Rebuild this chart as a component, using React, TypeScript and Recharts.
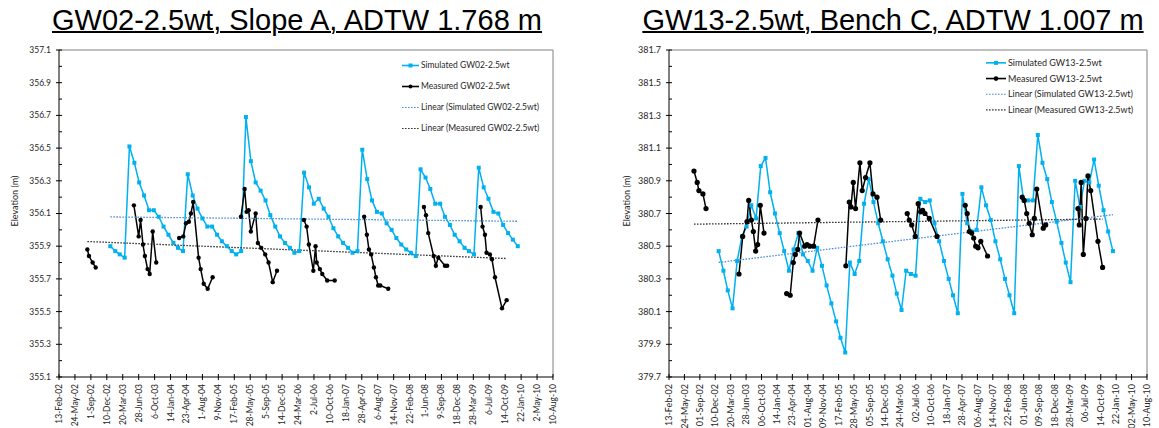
import React from "react";
import { LineChart, Line, XAxis, YAxis, Legend, ReferenceLine } from "recharts";

// x-axis tick labels, every 100 days
const ticks02 = [
  "13-Feb-02", "24-May-02", "1-Sep-02", "10-Dec-02", "20-Mar-03", "28-Jun-03", "6-Oct-03", "14-Jan-04",
  "23-Apr-04", "1-Aug-04", "9-Nov-04", "17-Feb-05", "28-May-05", "5-Sep-05", "14-Dec-05", "24-Mar-06",
  "2-Jul-06", "10-Oct-06", "18-Jan-07", "28-Apr-07", "6-Aug-07", "14-Nov-07", "22-Feb-08", "1-Jun-08",
  "9-Sep-08", "18-Dec-08", "28-Mar-09", "6-Jul-09", "14-Oct-09", "22-Jan-10", "2-May-10", "10-Aug-10"
];
const ticks13 = [
  "13-Feb-02", "24-May-02", "01-Sep-02", "10-Dec-02", "20-Mar-03", "28-Jun-03", "06-Oct-03", "14-Jan-04",
  "23-Apr-04", "01-Aug-04", "09-Nov-04", "17-Feb-05", "28-May-05", "05-Sep-05", "14-Dec-05", "24-Mar-06",
  "02-Jul-06", "10-Oct-06", "18-Jan-07", "28-Apr-07", "06-Aug-07", "14-Nov-07", "22-Feb-08", "01-Jun-08",
  "09-Sep-08", "18-Dec-08", "28-Mar-09", "06-Jul-09", "14-Oct-09", "22-Jan-10", "02-May-10", "10-Aug-10"
];

const yTicks02 = [
  355.1, 355.2, 355.3, 355.4, 355.5, 355.6, 355.7, 355.8, 355.9, 356.0, 356.1,
  356.2, 356.3, 356.4, 356.5, 356.6, 356.7, 356.8, 356.9, 357.0, 357.1
];
const yTicks13 = [
  379.7, 379.8, 379.9, 380.0, 380.1, 380.2, 380.3, 380.4, 380.5, 380.6, 380.7,
  380.8, 380.9, 381.0, 381.1, 381.2, 381.3, 381.4, 381.5, 381.6, 381.7
];

// model output, first of each month
const simMonths = [
  "2003-01", "2003-02", "2003-03", "2003-04", "2003-05", "2003-06", "2003-07", "2003-08", "2003-09", "2003-10", "2003-11", "2003-12",
  "2004-01", "2004-02", "2004-03", "2004-04", "2004-05", "2004-06", "2004-07", "2004-08", "2004-09", "2004-10", "2004-11", "2004-12",
  "2005-01", "2005-02", "2005-03", "2005-04", "2005-05", "2005-06", "2005-07", "2005-08", "2005-09", "2005-10", "2005-11", "2005-12",
  "2006-01", "2006-02", "2006-03", "2006-04", "2006-05", "2006-06", "2006-07", "2006-08", "2006-09", "2006-10", "2006-11", "2006-12",
  "2007-01", "2007-02", "2007-03", "2007-04", "2007-05", "2007-06", "2007-07", "2007-08", "2007-09", "2007-10", "2007-11", "2007-12",
  "2008-01", "2008-02", "2008-03", "2008-04", "2008-05", "2008-06", "2008-07", "2008-08", "2008-09", "2008-10", "2008-11", "2008-12",
  "2009-01", "2009-02", "2009-03", "2009-04", "2009-05", "2009-06", "2009-07", "2009-08", "2009-09", "2009-10", "2009-11", "2009-12",
  "2010-01"
];

const simGW02 = [
  355.90, 355.87, 355.85, 355.83, 356.51, 356.41, 356.29, 356.21, 356.12, 356.12, 356.08, 356.02,
  355.97, 355.92, 355.89, 355.87, 356.34, 356.21, 356.13, 356.07, 356.02, 356.02, 355.97, 355.93,
  355.90, 355.87, 355.85, 355.87, 356.69, 356.42, 356.29, 356.24, 356.18, 356.09, 356.02, 355.96,
  355.92, 355.89, 355.86, 355.87, 356.35, 356.26, 356.16, 356.19, 356.13, 356.08, 356.01, 355.96,
  355.92, 355.89, 355.86, 355.87, 356.49, 356.31, 356.18, 356.11, 356.10, 356.04, 356.00, 355.95,
  355.91, 355.88, 355.86, 355.84, 356.37, 356.32, 356.25, 356.16, 356.16, 356.08, 356.03, 355.97,
  355.93, 355.89, 355.87, 355.85, 356.38, 356.26, 356.19, 356.11, 356.10, 356.03, 355.98, 355.94,
  355.90
];

const simGW13 = [
  380.47, 380.35, 380.23, 380.12, 380.41, 380.56, 380.62, 380.75, 380.67, 380.99, 381.04, 380.83,
  380.70, 380.58, 380.47, 380.35, 380.48, 380.58, 380.45, 380.41, 380.35, 380.49, 380.38, 380.26,
  380.15, 380.04, 379.94, 379.85, 380.40, 380.33, 380.41, 380.76, 380.91, 380.77, 380.64, 380.53,
  380.42, 380.32, 380.21, 380.11, 380.35, 380.33, 380.32, 380.79, 380.77, 380.78, 380.64, 380.53,
  380.41, 380.30, 380.20, 380.09, 380.82, 380.64, 380.59, 380.60, 380.86, 380.75, 380.66, 380.53,
  380.42, 380.30, 380.20, 380.09, 380.99, 380.78, 380.78, 380.78, 381.18, 381.01, 380.91, 380.77,
  380.65, 380.52, 380.40, 380.28, 380.90, 380.74, 380.90, 380.89, 381.03, 380.87, 380.72, 380.59,
  380.47
];

// field readings, one list per monitoring season
type Obs = [string, number];

const measGW02: Obs[][] = [
  [["2002-08-10", 355.88], ["2002-08-20", 355.84], ["2002-09-12", 355.80], ["2002-10-01", 355.77]],
  [["2003-05-29", 356.15], ["2003-06-28", 355.96], ["2003-07-10", 356.06], ["2003-07-25", 355.91], ["2003-08-06", 355.84],
   ["2003-08-23", 355.76], ["2003-09-05", 355.73], ["2003-09-24", 355.99], ["2003-10-16", 355.80]],
  [["2004-03-08", 355.95], ["2004-04-03", 355.96], ["2004-04-20", 356.04], ["2004-05-08", 356.05], ["2004-05-21", 356.10],
   ["2004-06-04", 356.17], ["2004-07-08", 355.83], ["2004-07-21", 355.76], ["2004-08-09", 355.67], ["2004-09-03", 355.64],
   ["2004-10-04", 355.71]],
  [["2005-03-31", 356.08], ["2005-04-23", 356.25], ["2005-05-05", 356.11], ["2005-05-18", 356.12], ["2005-06-01", 355.99],
   ["2005-07-01", 356.10], ["2005-07-15", 355.92], ["2005-08-05", 355.89], ["2005-08-30", 355.85], ["2005-09-20", 355.80],
   ["2005-10-16", 355.68], ["2005-11-12", 355.75]],
  [["2006-04-30", 356.06], ["2006-05-17", 356.02], ["2006-05-31", 355.91], ["2006-06-28", 355.75], ["2006-07-12", 355.90],
   ["2006-07-19", 355.80], ["2006-08-08", 355.76], ["2006-08-23", 355.73], ["2006-09-23", 355.69], ["2006-11-09", 355.69]],
  [["2007-05-13", 356.08], ["2007-05-30", 355.97], ["2007-06-12", 355.88], ["2007-06-26", 355.85], ["2007-07-13", 355.77],
   ["2007-07-26", 355.71], ["2007-08-09", 355.66], ["2007-08-22", 355.66], ["2007-10-11", 355.64]],
  [["2008-05-22", 356.14], ["2008-06-04", 356.09], ["2008-06-18", 355.98], ["2008-07-22", 355.84], ["2008-08-05", 355.78],
   ["2008-08-20", 355.83], ["2008-10-01", 355.78], ["2008-10-15", 355.78]],
  [["2009-05-13", 356.14], ["2009-05-25", 356.02], ["2009-06-09", 355.97], ["2009-06-19", 355.86], ["2009-07-10", 355.85],
   ["2009-07-23", 355.82], ["2009-08-11", 355.71], ["2009-09-24", 355.52], ["2009-10-23", 355.57]]
];

const measGW13: Obs[][] = [
  [["2002-07-25", 380.96], ["2002-08-15", 380.89], ["2002-08-26", 380.84], ["2002-09-21", 380.82], ["2002-10-11", 380.73]],
  [["2003-05-13", 380.33], ["2003-06-06", 380.56], ["2003-07-04", 380.65], ["2003-07-15", 380.78], ["2003-08-01", 380.66],
   ["2003-08-14", 380.59], ["2003-08-29", 380.47], ["2003-09-11", 380.51], ["2003-09-28", 380.75], ["2003-10-22", 380.58]],
  [["2004-03-17", 380.21], ["2004-04-09", 380.20], ["2004-04-29", 380.40], ["2004-05-12", 380.45], ["2004-05-28", 380.48],
   ["2004-06-09", 380.58], ["2004-07-12", 380.50], ["2004-07-27", 380.51], ["2004-08-14", 380.50], ["2004-09-08", 380.50],
   ["2004-10-06", 380.66]],
  [["2005-04-05", 380.38], ["2005-04-27", 380.77], ["2005-05-08", 380.74], ["2005-05-23", 380.89], ["2005-06-07", 380.73],
   ["2005-07-05", 381.01], ["2005-07-20", 380.84], ["2005-08-11", 380.92], ["2005-09-08", 381.01], ["2005-09-28", 380.82],
   ["2005-10-24", 380.80], ["2005-11-17", 380.66]],
  [["2006-05-08", 380.70], ["2006-05-21", 380.66], ["2006-06-06", 380.63], ["2006-06-29", 380.56], ["2006-07-18", 380.76],
   ["2006-08-03", 380.71], ["2006-08-16", 380.72], ["2006-08-31", 380.70], ["2006-09-28", 380.67], ["2006-11-17", 380.56]],
  [["2007-05-19", 380.75], ["2007-06-01", 380.70], ["2007-06-15", 380.59], ["2007-06-30", 380.58], ["2007-07-13", 380.55],
   ["2007-07-26", 380.50], ["2007-08-10", 380.49], ["2007-08-28", 380.53], ["2007-10-11", 380.44]],
  [["2008-05-23", 380.80], ["2008-06-05", 380.78], ["2008-06-21", 380.70], ["2008-07-07", 380.64], ["2008-07-27", 380.57],
   ["2008-08-09", 380.67], ["2008-08-25", 380.85], ["2008-10-06", 380.61], ["2008-10-22", 380.63]],
  [["2009-05-19", 380.73], ["2009-05-28", 380.63], ["2009-06-09", 380.89], ["2009-06-23", 380.45], ["2009-07-10", 380.67],
   ["2009-07-23", 380.93], ["2009-08-10", 380.84], ["2009-09-26", 380.53], ["2009-10-26", 380.37]]
];

const SIM_BLUE = "#00B0F0";
const FIT_BLUE = "#4A8FD6";
const TEXT = "#262626";
const FONT = "Lato, 'Noto Sans', sans-serif";

const MONTHS: Record<string, number> = {
  Jan: 0, Feb: 1, Mar: 2, Apr: 3, May: 4, Jun: 5, Jul: 6, Aug: 7, Sep: 8, Oct: 9, Nov: 10, Dec: 11
};

// days since epoch
const isoDay = (s: string) => {
  const [y, m, d] = s.split("-").map(Number);
  return Date.UTC(y, m - 1, d || 1) / 864e5;
};
const tickDay = (s: string) => {
  const [d, mon, yy] = s.split("-");
  return Date.UTC(2000 + Number(yy), MONTHS[mon], Number(d)) / 864e5;
};

type Row = { t: number; [k: string]: number | null };

const simRows = (vals: number[]): Row[] => simMonths.map((m, i) => ({ t: isoDay(m), sim: vals[i] }));

// seasons joined with a null so the line breaks between them
const measRows = (seasons: Obs[][]): Row[] =>
  seasons.flatMap((s, k) => {
    const rows: Row[] = s.map(([d, v]) => ({ t: isoDay(d), meas: v }));
    if (k < seasons.length - 1) rows.push({ t: rows[rows.length - 1].t + 1, meas: null });
    return rows;
  });

// least-squares line over the span of the series
const linearFit = (rows: Row[], src: string, key: string): Row[] => {
  const pts = rows.filter((r) => r[src] != null).map((r) => [r.t, r[src] as number]);
  const n = pts.length;
  const mx = pts.reduce((a, p) => a + p[0], 0) / n;
  const my = pts.reduce((a, p) => a + p[1], 0) / n;
  let sxy = 0;
  let sxx = 0;
  pts.forEach(([x, y]) => {
    sxy += (x - mx) * (y - my);
    sxx += (x - mx) * (x - mx);
  });
  const b = sxy / sxx;
  const t0 = Math.min(...pts.map((p) => p[0]));
  const t1 = Math.max(...pts.map((p) => p[0]));
  return [
    { t: t0, [key]: my + b * (t0 - mx) },
    { t: t1, [key]: my + b * (t1 - mx) }
  ];
};

// legend rows in series order, with the sample drawn for each
const legendOrder = ["sim", "meas", "simFit", "measFit"];
const legendMarks: Record<string, string> = { sim: "square", meas: "circle", simFit: "dots", measFit: "dots" };

type PanelProps = {
  left: number;
  width: number;
  title: string;
  titleCenter: number;
  well: string;
  sim: number[];
  meas: Obs[][];
  xLabels: string[];
  yTicks: number[];
  yAxisWidth: number;
  marginRight: number;
  font: number;
  legendLeft: number;
  legendRow: number;
  legendSample: number;
  dotR: number;
  yTitleX: number;
};

function Panel(p: PanelProps) {
  const simData = simRows(p.sim);
  const measData = measRows(p.meas);
  const simFit = linearFit(simData, "sim", "simFit");
  const measFit = linearFit(measData, "meas", "measFit");

  const xTicks = p.xLabels.map(tickDay);
  const xLabelOf = new Map(xTicks.map((t, i) => [t, p.xLabels[i]]));
  const yLo = p.yTicks[0];
  const yHi = p.yTicks[p.yTicks.length - 1];

  const XTick = (props: any) => {
    const { x, y, payload } = props;
    return (
      <g>
        <line x1={x} x2={x} y1={y - 3} y2={y + 3} stroke="#000" strokeWidth={1} />
        <text
          x={x}
          y={y + 7}
          dy="0.35em"
          transform={`rotate(-90 ${x} ${y + 7})`}
          textAnchor="end"
          fontSize={p.font}
          fontFamily={FONT}
          fill={TEXT}
        >
          {xLabelOf.get(payload.value) ?? ""}
        </text>
      </g>
    );
  };

  const YTick = (props: any) => {
    const { x, y, payload } = props;
    const major = p.yTicks.indexOf(payload.value) % 2 === 0;
    return (
      <g>
        <line x1={major ? x - 3 : x} x2={x + 3} y1={y} y2={y} stroke="#000" strokeWidth={1} />
        {major && (
          <text x={x - 8} y={y} dy="0.35em" textAnchor="end" fontSize={p.font} fontFamily={FONT} fill={TEXT}>
            {Number(payload.value).toFixed(1)}
          </text>
        )}
      </g>
    );
  };

  const square = (d: any) =>
    d.cy == null ? (
      <g key={d.index} />
    ) : (
      <rect key={d.index} x={d.cx - 2} y={d.cy - 2} width={4} height={4} fill={SIM_BLUE} />
    );
  const circle = (d: any) =>
    d.cy == null || d.value == null ? (
      <g key={d.index} />
    ) : (
      <circle key={d.index} cx={d.cx} cy={d.cy} r={p.dotR} fill="#000" />
    );

  const renderLegend = (props: any) => {
    const items: any[] = [...(props.payload ?? [])].sort(
      (a, b) => legendOrder.indexOf(String(a.dataKey)) - legendOrder.indexOf(String(b.dataKey))
    );
    const row = p.legendRow;
    const s = p.legendSample;
    return (
      <svg width={180} height={row * items.length} style={{ display: "block", overflow: "visible" }}>
        {items.map((it, i) => {
          const cy = row * i + row / 2;
          const mark = legendMarks[String(it.dataKey)];
          const dotted = mark === "dots";
          return (
            <g key={i}>
              <line
                x1={4}
                x2={4 + s}
                y1={cy}
                y2={cy}
                stroke={it.color}
                strokeWidth={dotted ? 1.2 : 1.6}
                strokeDasharray={dotted ? "1.6 1.4" : undefined}
              />
              {mark === "square" && <rect x={4 + s / 2 - 2} y={cy - 2} width={4} height={4} fill={SIM_BLUE} />}
              {mark === "circle" && <circle cx={4 + s / 2} cy={cy} r={p.dotR * 0.9} fill="#000" />}
              <text x={6 + s} y={cy} dy="0.35em" fontSize={p.font} fontFamily={FONT} fill={TEXT}>
                {it.value}
              </text>
            </g>
          );
        })}
      </svg>
    );
  };

  return (
    <div style={{ position: "absolute", left: p.left, top: 0, width: p.width, height: 428 }}>
      <div
        style={{
          position: "absolute",
          left: p.titleCenter - p.left - 300,
          top: 6,
          width: 600,
          textAlign: "center",
          fontFamily: "'Liberation Sans', Arial, sans-serif",
          fontSize: 29,
          lineHeight: "29px",
          textDecoration: "underline",
          textDecorationThickness: 2,
          color: "#000",
          whiteSpace: "nowrap"
        }}
      >
        {p.title}
      </div>
      <div
        style={{
          position: "absolute",
          left: p.yTitleX - 50,
          top: 201 - 6,
          width: 100,
          height: 12,
          lineHeight: "12px",
          textAlign: "center",
          transform: "rotate(-90deg)",
          fontFamily: FONT,
          fontSize: 9,
          color: TEXT
        }}
      >
        Elevation (m)
      </div>
      <LineChart width={p.width} height={428} margin={{ top: 50, right: p.marginRight, bottom: 0, left: 0 }}>
        <XAxis
          type="number"
          dataKey="t"
          scale="linear"
          domain={[xTicks[0], xTicks[xTicks.length - 1]]}
          ticks={xTicks}
          interval={0}
          allowDataOverflow
          height={51}
          tickSize={0}
          tickMargin={0}
          tickLine={false}
          axisLine={{ stroke: "#000", strokeWidth: 1 }}
          tick={<XTick />}
        />
        <YAxis
          type="number"
          domain={[yLo, yHi]}
          ticks={p.yTicks}
          interval={0}
          allowDataOverflow
          width={p.yAxisWidth}
          tickSize={0}
          tickMargin={0}
          tickLine={false}
          axisLine={{ stroke: "#000", strokeWidth: 1 }}
          tick={<YTick />}
        />
        <ReferenceLine y={yHi} stroke="#808080" strokeWidth={1} />
        <ReferenceLine x={xTicks[xTicks.length - 1]} stroke="#808080" strokeWidth={1} />
        <Line
          data={simData}
          dataKey="sim"
          name={`Simulated ${p.well}`}
          stroke={SIM_BLUE}
          strokeWidth={1.5}
          dot={square}
          activeDot={false}
          isAnimationActive={false}
        />
        <Line
          data={measData}
          dataKey="meas"
          name={`Measured ${p.well}`}
          stroke="#000"
          strokeWidth={1.5}
          dot={circle}
          activeDot={false}
          isAnimationActive={false}
        />
        <Line
          data={simFit}
          dataKey="simFit"
          name={`Linear (Simulated ${p.well})`}
          stroke={FIT_BLUE}
          strokeWidth={1.3}
          strokeDasharray="1.6 1.4"
          dot={false}
          activeDot={false}
          isAnimationActive={false}
        />
        <Line
          data={measFit}
          dataKey="measFit"
          name={`Linear (Measured ${p.well})`}
          stroke="#333"
          strokeWidth={1.3}
          strokeDasharray="1.6 1.4"
          dot={false}
          activeDot={false}
          isAnimationActive={false}
        />
        <Legend
          layout="vertical"
          align="center"
          verticalAlign="middle"
          wrapperStyle={{ position: "absolute", left: p.legendLeft, top: 55, width: 180 }}
          content={renderLegend}
        />
      </LineChart>
    </div>
  );
}

export default function App() {
  return (
    <div style={{ position: "absolute", left: 0, top: 0, width: 1159, height: 428, background: "#fff" }}>
      <Panel
        left={0}
        width={580}
        title="GW02-2.5wt, Slope A, ADTW 1.768 m"
        titleCenter={297}
        well="GW02-2.5wt"
        sim={simGW02}
        meas={measGW02}
        xLabels={ticks02}
        yTicks={yTicks02}
        yAxisWidth={59}
        marginRight={27}
        font={8.5}
        legendLeft={398}
        legendRow={21}
        legendSample={17}
        dotR={2.2}
        yTitleX={15}
      />
      <Panel
        left={580}
        width={579}
        title="GW13-2.5wt, Bench C, ADTW 1.007 m"
        titleCenter={893}
        well="GW13-2.5wt"
        sim={simGW13}
        meas={measGW13}
        xLabels={ticks13}
        yTicks={yTicks13}
        yAxisWidth={89}
        marginRight={12}
        font={9}
        legendLeft={402}
        legendRow={15.7}
        legendSample={20}
        dotR={2.6}
        yTitleX={47}
      />
    </div>
  );
}
